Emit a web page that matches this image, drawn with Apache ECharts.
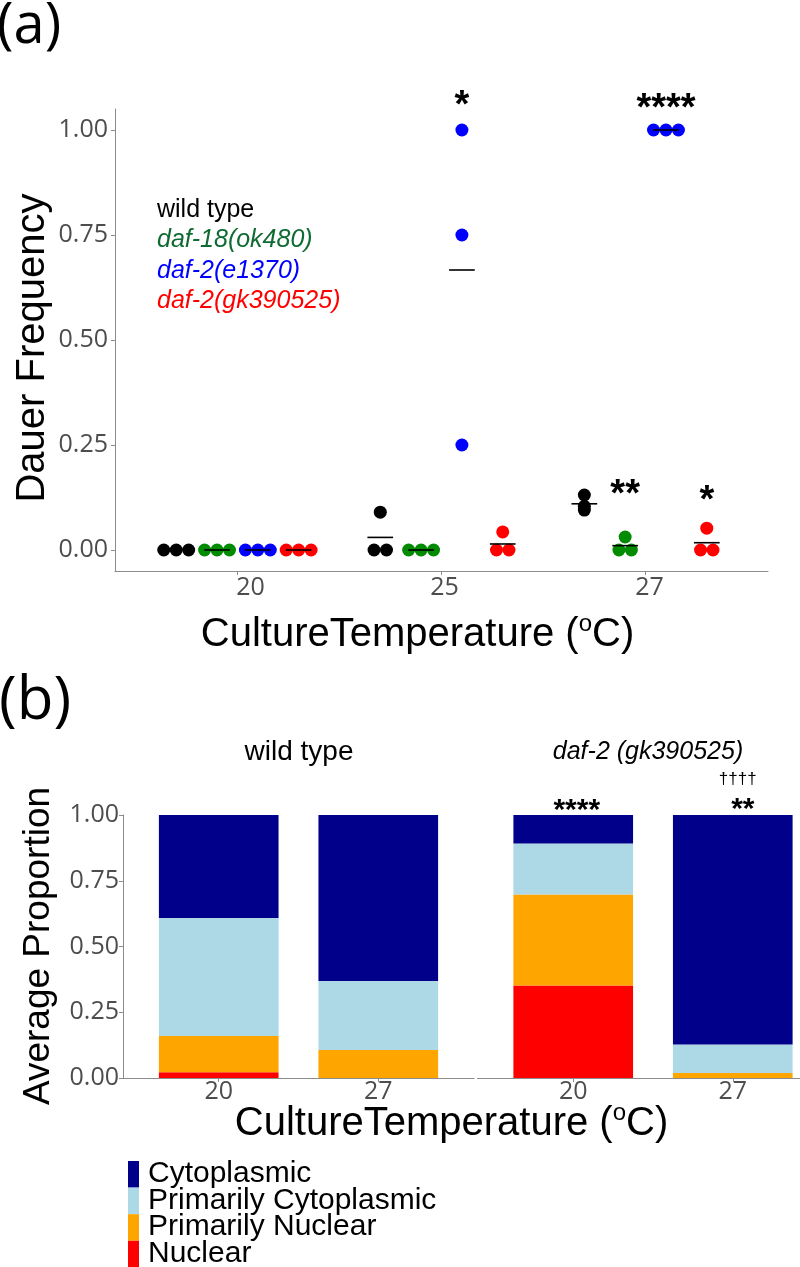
<!DOCTYPE html>
<html><head><meta charset="utf-8">
<script src="https://cdn.jsdelivr.net/npm/echarts@6/dist/echarts.min.js"></script>
<style>html,body{margin:0;padding:0;background:#fff}#c{width:800px;height:1267px}</style>
</head><body><div id="c"></div>
<script>
// ---------------- data: panel (a) ----------------
const temps = ['20', '25', '27'];
const strains = ['wild type', 'daf-18(ok480)', 'daf-2(e1370)', 'daf-2(gk390525)'];
const wildType  = [[0, 0, 0], [0.09, 0, 0], [0.131, 0.104, 0.095]];
const daf18     = [[0, 0, 0], [0, 0, 0], [0.031, 0, 0]];
const daf2e1370 = [[0, 0, 0], [1, 0.75, 0.25], [1, 1, 1]];
const daf2gk    = [[0, 0, 0], [0.043, 0, 0], [0.052, 0, 0]];
const yTicksA = [0, 0.25, 0.5, 0.75, 1];
const sigA = [
  { temp: 1, strain: 2, y: 1.076, text: '*' },
  { temp: 2, strain: 2, y: 1.069, text: '****' },
  { temp: 2, strain: 1, y: 0.150, text: '**' },
  { temp: 2, strain: 3, y: 0.136, text: '*' }
];

// ---------------- data: panel (b) ----------------
const bTemps = ['20', '27'];
const facets = ['wild type', 'daf-2 (gk390525)'];
const localization = ['Cytoplasmic', 'Primarily Cytoplasmic', 'Primarily Nuclear', 'Nuclear'];
const wtNuclear     = [0.022, 0.0];
const wtPrimNuclear = [0.138, 0.106];
const wtPrimCyto    = [0.448, 0.263];
const wtCyto        = [0.392, 0.631];
const gkNuclear     = [0.352, 0.0];
const gkPrimNuclear = [0.346, 0.019];
const gkPrimCyto    = [0.194, 0.108];
const gkCyto        = [0.108, 0.873];
const yTicksB = [0, 0.25, 0.5, 0.75, 1];
const sigB = [
  { facet: 1, temp: 0, dx: 0.022, y: 1.042, text: '****', kind: 'star' },
  { facet: 1, temp: 1, dx: 0.063, y: 1.045, text: '**', kind: 'star' },
  { facet: 1, temp: 1, dx: 0.031, y: 1.137, text: '††††', kind: 'dagger' }
];

// ---------------- styles / layout ----------------
const strainColors = ['#000000', '#008B00', '#0000FF', '#FF0000'];
const strainTextColors = ['#000000', '#0F6B32', '#0000FF', '#FF0000'];
const strainItalic = [false, true, true, true];
const locColors = ['#00008B', '#ADD8E6', '#FFA500', '#FF0000'];
const dodge = [-0.3, -0.1, 0.1, 0.3];
const swarmStep = 0.061;
const meanHalf = 0.063;
const barHalf = 0.375;
const labelShiftA = [13, 3, 4];
const SANS = '"Liberation Sans", Arial, sans-serif';
const OPEN = '"Open Sans", sans-serif';
const axisLineStyle = { color: '#8c8c8c', width: 1 };
const tickLabel = { color: '#4d4d4d', fontSize: 25, fontFamily: OPEN };

const chart = echarts.init(document.getElementById('c'), null, { renderer: 'canvas', width: 800, height: 1267 });

const series = [];
const strainData = [wildType, daf18, daf2e1370, daf2gk];
strainData.forEach((sd, si) => {
  const pts = [];
  sd.forEach((vals, ti) => {
    vals.forEach((v, k) => {
      const same = vals.map((u, j) => [u, j]).filter(p => p[0] === v);
      const n = same.length;
      const rank = same.findIndex(p => p[1] === k);
      pts.push([ti + dodge[si] + (rank - (n - 1) / 2) * swarmStep, v]);
    });
  });
  series.push({
    type: 'scatter', name: strains[si], xAxisIndex: 0, yAxisIndex: 0, data: pts,
    symbolSize: 13, itemStyle: { color: strainColors[si], opacity: 1 }, z: 2, silent: true
  });
});
const meanData = [];
strainData.forEach((sd, si) => sd.forEach((vals, ti) =>
  meanData.push([ti + dodge[si], vals.reduce((a, b) => a + b, 0) / vals.length])));
series.push({
  type: 'custom', xAxisIndex: 0, yAxisIndex: 0, data: meanData, z: 3, silent: true,
  encode: { x: 0, y: 1 },
  renderItem: (params, api) => {
    const x = api.value(0), y = api.value(1);
    const a = api.coord([x - meanHalf, y]), b = api.coord([x + meanHalf, y]);
    return { type: 'line', shape: { x1: a[0], y1: a[1], x2: b[0], y2: b[1] }, style: { stroke: '#000', lineWidth: 1.6 } };
  }
});

const facetStacks = [[wtCyto, wtPrimCyto, wtPrimNuclear, wtNuclear], [gkCyto, gkPrimCyto, gkPrimNuclear, gkNuclear]];
facetStacks.forEach((stack, fi) => {
  const bottoms = bTemps.map(() => 0);
  [3, 2, 1, 0].forEach(li => {
    const data = stack[li].map((v, ti) => { const b = bottoms[ti]; bottoms[ti] += v; return [ti, b, b + v]; });
    series.push({
      type: 'custom', name: localization[li], xAxisIndex: fi + 1, yAxisIndex: fi + 1, data, silent: true,
      encode: { x: 0, y: [1, 2] },
      renderItem: (params, api) => {
        const x = api.value(0), b = api.value(1), t = api.value(2);
        if (t - b <= 0) return { type: 'group', children: [] };
        const p1 = api.coord([x - barHalf, t]), p2 = api.coord([x + barHalf, b]);
        return { type: 'rect', shape: { x: p1[0], y: p1[1], width: p2[0] - p1[0], height: p2[1] - p1[1] }, style: { fill: locColors[li] } };
      }
    });
  });
});

function xAxisDef(gi, min, max, vals, labels, margin, shifts) {
  const rich = {};
  labels.forEach((l, i) => {
    rich['s' + i] = Object.assign({ padding: [0, 0, 0, shifts ? shifts[i] * 2 : 0] }, tickLabel);
  });
  return {
    gridIndex: gi, type: 'value', min, max, splitLine: { show: false },
    axisLine: { onZero: false, lineStyle: axisLineStyle },
    axisTick: { customValues: vals, length: 4, lineStyle: axisLineStyle },
    axisLabel: Object.assign({
      customValues: vals, margin, rich,
      formatter: v => { const i = Math.round(v); return '{s' + i + '|' + labels[i] + '}'; }
    }, tickLabel)
  };
}
function yAxisDef(gi, min, max, vals, margin, show) {
  return {
    gridIndex: gi, type: 'value', min, max, show, splitLine: { show: false },
    axisLine: { onZero: false, show: true, lineStyle: axisLineStyle },
    axisTick: { customValues: vals, length: 4, lineStyle: axisLineStyle },
    axisLabel: Object.assign({ customValues: vals, formatter: v => v.toFixed(2), margin }, tickLabel)
  };
}

chart.setOption({
  animation: false,
  backgroundColor: '#ffffff',
  grid: [
    { left: 115, top: 109, width: 653, height: 462 },
    { left: 123, top: 815, width: 351, height: 263 },
    { left: 477.5, top: 815, width: 322.5, height: 263 }
  ],
  xAxis: [
    xAxisDef(0, -0.6, 2.6, [0, 1, 2], temps, 4, labelShiftA),
    xAxisDef(1, -0.6, 1.6, [0, 1], bTemps, 1),
    xAxisDef(2, -0.6, -0.6 + 322.5 / (351 / 2.2), [0, 1], bTemps, 1)
  ],
  yAxis: [
    yAxisDef(0, -0.05, 1.05, yTicksA, 7, true),
    yAxisDef(1, 0, 1, yTicksB, 4, true),
    yAxisDef(2, 0, 1, yTicksB, 4, false)
  ],
  series
});

// ---------------- text / annotations ----------------
const mctx = document.createElement('canvas').getContext('2d');
function measure(str, size, family, style) {
  mctx.font = (style || '') + ' ' + size + 'px ' + family;
  return mctx.measureText(str).width;
}
function txt(x, y, text, size, opts) {
  opts = opts || {};
  return {
    type: 'text', x, y, rotation: opts.rotation || 0, silent: true,
    style: {
      text, fontSize: size, fontFamily: opts.family || SANS, fontWeight: opts.weight || 'normal',
      fontStyle: opts.italic ? 'italic' : 'normal', fill: opts.color || '#000',
      align: opts.align || 'center', verticalAlign: 'middle'
    }
  };
}
function supTitle(cx, cy, size) {
  const sup = Math.round(size * 0.6);
  const w1 = measure('CultureTemperature (', size, SANS);
  const w2 = measure('o', sup, SANS);
  const w3 = measure('C)', size, SANS);
  const x0 = cx - (w1 + w2 + w3) / 2;
  return [
    txt(x0, cy, 'CultureTemperature (', size, { align: 'left' }),
    txt(x0 + w1, cy - size * 0.27, 'o', sup, { align: 'left' }),
    txt(x0 + w1 + w2, cy, 'C)', size, { align: 'left' })
  ];
}

const els = [];
els.push(txt(-3, 27, '(a)', 56, { family: OPEN, align: 'left' }));
els.push(txt(-1, 702, '(b)', 60, { family: OPEN, align: 'left' }));
els.push(txt(33, 348, 'Dauer Frequency', 40, { rotation: Math.PI / 2 }));
els.push(txt(39, 946, 'Average Proportion', 37, { rotation: Math.PI / 2 }));
els.push(...supTitle(417.5, 635, 40));
els.push(...supTitle(451.5, 1124, 40));

strains.forEach((s, i) => {
  els.push(txt(157, 210 + i * 30.5, s, 25, { align: 'left', color: strainTextColors[i], italic: strainItalic[i] }));
});

sigA.forEach(s => {
  const p = chart.convertToPixel({ gridIndex: 0 }, [s.temp + dodge[s.strain], s.y]);
  els.push(txt(p[0], p[1] + 38 * 0.23, s.text, 38, { weight: 'bold' }));
});
sigB.forEach(s => {
  const p = chart.convertToPixel({ gridIndex: s.facet + 1 }, [s.temp + s.dx, s.y]);
  if (s.kind === 'star') els.push(txt(p[0], p[1] + 30 * 0.23, s.text, 30, { weight: 'bold' }));
  else els.push(txt(p[0], p[1], s.text, 17));
});

els.push(txt(299, 752.5, facets[0], 28));
els.push(txt(648, 752.5, facets[1], 25, { italic: true }));

localization.forEach((l, i) => {
  const top = 1161 + i * 26.6;
  els.push({ type: 'rect', silent: true, shape: { x: 128, y: top, width: 11, height: 26.6 }, style: { fill: locColors[i] } });
  els.push(txt(148, top + 13, l, 30, { align: 'left' }));
});

chart.setOption({ graphic: { elements: els } });
</script>
</body></html>
